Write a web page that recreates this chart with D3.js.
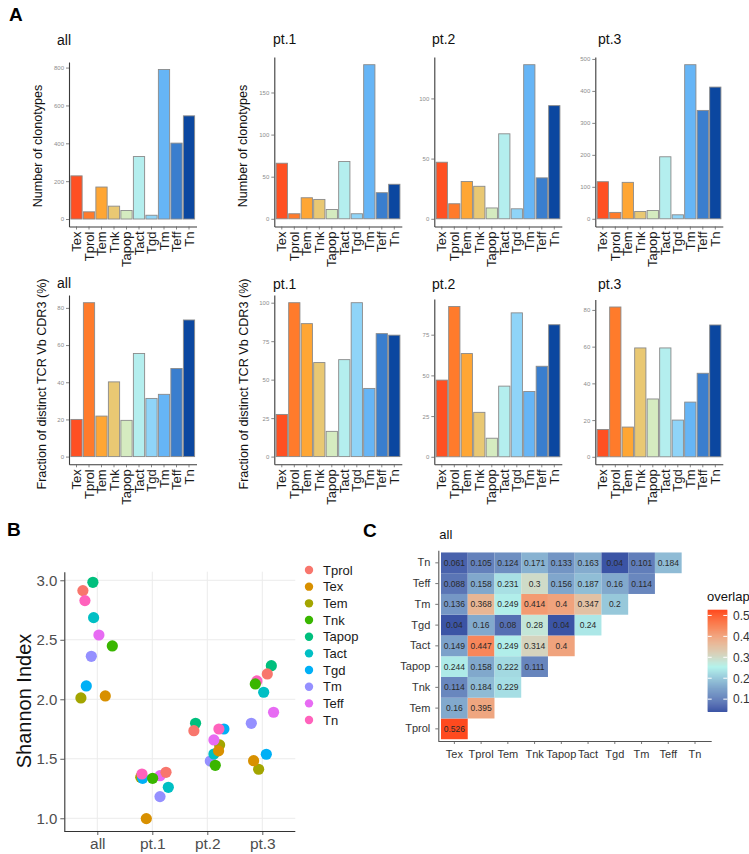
<!DOCTYPE html>
<html><head><meta charset="utf-8">
<script src="https://cdn.jsdelivr.net/npm/d3@7"></script>
<style>
body{margin:0;background:#fff}
svg{display:block}
text{font-family:"Liberation Sans",Arial,Helvetica,sans-serif}
</style>
</head><body>
<svg id="c" width="749" height="854"></svg>
<script>
// ---------------- DATA ----------------
const cellTypes = ["Tex","Tprol","Tem","Tnk","Tapop","Tact","Tgd","Tm","Teff","Tn"];
const barColors = ["#FF5022","#FF7B2B","#FFA634","#E9C873","#D5EBC0","#B4EEEE","#8FD4F8","#66B5F6","#3A7ECE","#0B47A0"];
const panelNames = ["all","pt.1","pt.2","pt.3"];

const clonotypesAll = [228, 38, 169, 68, 45, 330, 20, 790, 401, 545];
const clonotypesPt1 = [66, 6, 25, 23, 11, 68, 6, 183, 31, 41];
const clonotypesPt2 = [47, 12.5, 31, 27, 9, 70.6, 8.3, 128, 34, 94];
const clonotypesPt3 = [116, 20, 114, 23, 26, 194, 12.5, 482, 339, 412];

const fractionAll = [20, 82.8, 21.8, 40.2, 19.5, 55.5, 31.3, 33.5, 47.4, 73.5];
const fractionPt1 = [27.4, 100, 86.4, 61.1, 16.4, 63, 100, 44.3, 79.9, 78.9];
const fractionPt2 = [47.1, 92.3, 63.4, 27.3, 11.4, 43.4, 88.4, 40.1, 55.6, 81.1];
const fractionPt3 = [14.9, 81.6, 16.2, 59.3, 31.5, 59.3, 20, 29.8, 45.5, 71.8];

const clonoTicks = [[0,200,400,600,800],[0,50,100,150],[0,50,100],[0,100,200,300,400,500]];
const fracTicks = [[0,20,40,60,80],[0,25,50,75,100],[0,25,50,75],[0,20,40,60,80]];

// Shannon index (legend order)
const shannonTypes = ["Tprol","Tex","Tem","Tnk","Tapop","Tact","Tgd","Tm","Teff","Tn"];
const shannonColors = ["#F8766D","#D89000","#A3A500","#39B600","#00BF7D","#00BFC4","#00B0F6","#9590FF","#E76BF3","#FF62BC"];
const shannonAll = [2.913, 2.028, 2.011, 2.448, 2.983, 2.686, 2.112, 2.361, 2.540, 2.829];
const shannonPt1 = [1.386, 0.997, 1.345, 1.336, 1.350, 1.260, 1.336, 1.182, 1.358, 1.372];
const shannonPt2 = [1.736, 1.566, 1.616, 1.445, 1.798, 1.540, 1.750, 1.481, 1.658, 1.750];
const shannonPt3 = [2.213, 1.484, 1.412, 2.129, 2.282, 2.059, 1.538, 1.798, 1.891, 2.154];
// horizontal jitter, in category units
const jitterAll = [-0.262, 0.145, -0.298, 0.273, -0.08, -0.067, -0.2, -0.109, 0.029, -0.225];
const jitterPt1 = [0.249, -0.109, -0.21, 0.006, -0.19, 0.291, -0.176, 0.14, 0.14, -0.188];
const jitterPt2 = [-0.244, 0.205, 0.224, 0.145, -0.213, 0.12, 0.302, 0.055, 0.12, 0.211];
const jitterPt3 = [0.091, -0.158, -0.067, -0.127, 0.164, 0.025, 0.073, -0.2, 0.205, -0.098];
const shannonTicks = [1.0, 1.5, 2.0, 2.5, 3.0];
const drawOrder = ["Tapop","Tem","Tgd","Teff","Tm","Tact","Tex","Tprol","Tn","Tnk"];

// Overlap heatmap (rows bottom->top, values from Tex column onward)
const overlapRows = ["Tprol","Tem","Tnk","Tapop","Tact","Tgd","Tm","Teff","Tn"];
const overlapValues = [
  [0.526],
  [0.16, 0.395],
  [0.114, 0.184, 0.229],
  [0.244, 0.158, 0.222, 0.111],
  [0.149, 0.447, 0.249, 0.314, 0.4],
  [0.04, 0.16, 0.08, 0.28, 0.04, 0.24],
  [0.136, 0.368, 0.249, 0.414, 0.4, 0.347, 0.2],
  [0.088, 0.158, 0.231, 0.3, 0.156, 0.187, 0.16, 0.114],
  [0.061, 0.105, 0.124, 0.171, 0.133, 0.163, 0.04, 0.101, 0.184]
];
const overlapTicks = [0.1, 0.2, 0.3, 0.4, 0.5];

// ---------------- DRAW ----------------
const svg = d3.select("#c");
const FONT = '"Liberation Sans",Arial,sans-serif';

function styleAxis(g, lineCol, tickCol){
  g.select(".domain").attr("stroke", lineCol).attr("stroke-width", 1.1);
  g.selectAll(".tick line").attr("stroke", tickCol).attr("stroke-width", 0.8);
}

// Panel A
const colX = [69, 274.3, 434.3, 595.3];
const titleX = [57, 273, 432, 598];
const panelW = 127.5;
const rows = [
  {data:[clonotypesAll, clonotypesPt1, clonotypesPt2, clonotypesPt3], ticks: clonoTicks,
   top:[62,57,57,57], bottom:226.5, titleY:[45,44,44,44], ylabel:"Number of clonotypes",
   ylabelX:[41.7, 247.4], ylabelY:146},
  {data:[fractionAll, fractionPt1, fractionPt2, fractionPt3], ticks: fracTicks,
   top:[295,295,299,299.5], bottom:464.3, titleY:[288,289,289,289], ylabel:"Fraction of distinct TCR Vb CDR3 (%)",
   ylabelX:[45.7, 248], ylabelY:384}
];

rows.forEach(row => {
  row.data.forEach((vals, p) => {
    const x0 = colX[p];
    const mx = d3.max(vals);
    const x = d3.scaleBand().domain(cellTypes).range([x0, x0 + panelW]).paddingInner(0.1).paddingOuter(0.15);
    const y = d3.scaleLinear().domain([-0.05*mx, 1.05*mx]).range([row.bottom, row.top[p]]);
    const g = svg.append("g");
    g.selectAll("rect").data(vals).join("rect")
      .attr("x", (d,i) => x(cellTypes[i]))
      .attr("width", x.bandwidth())
      .attr("y", d => y(d))
      .attr("height", d => y(0) - y(d))
      .attr("fill", (d,i) => barColors[i])
      .attr("stroke", "#8a8a8a").attr("stroke-width", 0.9);
    const ya = g.append("g").attr("transform", `translate(${x0},0)`)
      .call(d3.axisLeft(y).tickValues(row.ticks[p]).tickSize(3).tickSizeOuter(0).tickPadding(2));
    ya.selectAll(".tick text").attr("font-size", 6).attr("fill", "#8c8c8c").attr("font-family", FONT);
    styleAxis(ya, "#3a3a3a", "#666");
    const xa = g.append("g").attr("transform", `translate(0,${row.bottom})`)
      .call(d3.axisBottom(x).tickSize(3).tickSizeOuter(0).tickPadding(2));
    xa.selectAll(".tick text")
      .attr("font-size", 13).attr("fill", "#1a1a1a").attr("font-family", FONT)
      .attr("text-anchor", "end")
      .attr("transform", "rotate(-90)")
      .attr("x", -5).attr("y", 0).attr("dy", "0.36em");
    styleAxis(xa, "#3a3a3a", "#666");
    g.append("text").attr("x", titleX[p]).attr("y", row.titleY[p])
      .attr("font-size", 14).attr("fill", "#111").text(panelNames[p]);
    if (p < 2) {
      g.append("text")
        .attr("transform", `translate(${row.ylabelX[p]},${row.ylabelY}) rotate(-90)`)
        .attr("text-anchor", "middle").attr("font-size", 12.6).attr("fill", "#111")
        .text(row.ylabel);
    }
  });
});

// Panel letters
svg.append("text").attr("x", 9).attr("y", 20.5).attr("font-size", 19).attr("font-weight", "bold").text("A");
svg.append("text").attr("x", 7).attr("y", 536).attr("font-size", 19).attr("font-weight", "bold").text("B");
svg.append("text").attr("x", 363).attr("y", 537).attr("font-size", 19).attr("font-weight", "bold").text("C");

// Panel B: Shannon index
(function(){
  const left = 64.3, right = 295.3, top = 571.7, bottom = 831;
  const x = d3.scalePoint().domain(panelNames).range([left, right]).padding(0.6);
  const y = d3.scaleLinear().domain([0.893, 3.072]).range([bottom, top]);
  const g = svg.append("g");
  g.selectAll("line.hg").data(shannonTicks).join("line")
    .attr("x1", left).attr("x2", right).attr("y1", d => y(d)).attr("y2", d => y(d))
    .attr("stroke", "#EBEBEB").attr("stroke-width", 1);
  g.selectAll("line.vg").data(panelNames).join("line")
    .attr("y1", top).attr("y2", bottom).attr("x1", d => x(d)).attr("x2", d => x(d))
    .attr("stroke", "#EBEBEB").attr("stroke-width", 1);
  const groupVals = [shannonAll, shannonPt1, shannonPt2, shannonPt3];
  const groupJit = [jitterAll, jitterPt1, jitterPt2, jitterPt3];
  const pts = [];
  drawOrder.forEach(t => {
    const k = shannonTypes.indexOf(t);
    panelNames.forEach((gname, gi) => {
      pts.push({g: gname, v: groupVals[gi][k], j: groupJit[gi][k], c: shannonColors[k]});
    });
  });
  g.selectAll("circle.pt").data(pts).join("circle")
    .attr("cx", d => x(d.g) + d.j * x.step())
    .attr("cy", d => y(d.v))
    .attr("r", 5.6)
    .attr("fill", d => d.c);
  const ya = g.append("g").attr("transform", `translate(${left},0)`)
    .call(d3.axisLeft(y).tickValues(shannonTicks).tickFormat(d3.format(".1f")).tickSize(4).tickSizeOuter(0).tickPadding(3));
  ya.selectAll(".tick text").attr("font-size", 15).attr("fill", "#4D4D4D").attr("font-family", FONT);
  styleAxis(ya, "#333", "#333");
  const xa = g.append("g").attr("transform", `translate(0,${bottom})`)
    .call(d3.axisBottom(x).tickSize(4).tickSizeOuter(0).tickPadding(3));
  xa.select(".domain").attr("d", `M${left},0.5H${right}`);
  xa.selectAll(".tick text").attr("font-size", 15.5).attr("fill", "#4D4D4D").attr("font-family", FONT);
  styleAxis(xa, "#333", "#333");
  g.append("text").attr("transform", `translate(31,701) rotate(-90)`)
    .attr("text-anchor", "middle").attr("font-size", 20).attr("fill", "#111").text("Shannon Index");
  const lg = g.append("g");
  shannonTypes.forEach((t, i) => {
    const ly = 570 + i * 16.67;
    lg.append("circle").attr("cx", 309).attr("cy", ly).attr("r", 4.2).attr("fill", shannonColors[i]);
    lg.append("text").attr("x", 323).attr("y", ly).attr("dy", "0.36em")
      .attr("font-size", 13).attr("fill", "#1a1a1a").text(t);
  });
})();

// Panel C: overlap heatmap
(function(){
  const left = 438.3, right = 711.7, top = 550.7, bottom = 741;
  const x = d3.scaleBand().domain(cellTypes).range([441, 708.4]);
  const y = d3.scaleBand().domain(overlapRows).range([bottom, top]).paddingOuter(0.085);
  const color = d3.scaleLinear().domain([0.04, 0.255, 0.526])
    .range(["#3B54A5", "#B4F3EC", "#FF4A1F"]).interpolate(d3.interpolateLab);
  const g = svg.append("g");
  const cells = [];
  overlapValues.forEach((r, ri) => r.forEach((v, ci) => cells.push({row: overlapRows[ri], col: cellTypes[ci], v})));
  g.selectAll("rect.cell").data(cells).join("rect")
    .attr("x", d => x(d.col)).attr("y", d => y(d.row))
    .attr("width", x.bandwidth()).attr("height", y.bandwidth())
    .attr("fill", d => color(d.v));
  g.selectAll("text.cv").data(cells).join("text")
    .attr("x", d => x(d.col) + x.bandwidth()/2).attr("y", d => y(d.row) + y.bandwidth()/2)
    .attr("dy", "0.36em").attr("text-anchor", "middle")
    .attr("font-size", 8.5).attr("fill", "#2a2a2a")
    .text(d => String(d.v));
  const ya = g.append("g").attr("transform", `translate(${left},0)`)
    .call(d3.axisLeft(y).tickSize(3).tickSizeOuter(0).tickPadding(5));
  ya.select(".domain").attr("d", `M0.5,${bottom}V${top}`);
  ya.selectAll(".tick text").attr("font-size", 11).attr("fill", "#333").attr("font-family", FONT);
  styleAxis(ya, "#555", "#555");
  const xa = g.append("g").attr("transform", `translate(0,${bottom})`)
    .call(d3.axisBottom(x).tickSize(3).tickSizeOuter(0).tickPadding(6));
  xa.select(".domain").attr("d", `M${left},0.5H${right}`);
  xa.selectAll(".tick text").attr("font-size", 11).attr("fill", "#333").attr("font-family", FONT);
  styleAxis(xa, "#555", "#555");
  g.append("text").attr("x", 439.3).attr("y", 539).attr("font-size", 13).attr("fill", "#111").text("all");
  const cbX = 707.7, cbW = 19.6;
  const cy = d3.scaleLinear().domain([0.04, 0.526]).range([711.7, 610]);
  const steps = d3.range(0, 100).map(i => 0.04 + (0.526 - 0.04) * i / 100);
  const sh = (cy(0.04) - cy(0.526)) / 100;
  g.selectAll("rect.cb").data(steps).join("rect")
    .attr("x", cbX).attr("width", cbW)
    .attr("y", d => cy(d) - sh - 0.3).attr("height", sh + 0.6)
    .attr("fill", d => color(d + (0.486/200)));
  overlapTicks.forEach(t => {
    g.append("line").attr("x1", cbX).attr("x2", cbX + 4).attr("y1", cy(t)).attr("y2", cy(t)).attr("stroke", "#fff").attr("stroke-width", 1);
    g.append("line").attr("x1", cbX + cbW - 4).attr("x2", cbX + cbW).attr("y1", cy(t)).attr("y2", cy(t)).attr("stroke", "#fff").attr("stroke-width", 1);
    g.append("text").attr("x", 733).attr("y", cy(t)).attr("dy", "0.36em")
      .attr("font-size", 12).attr("fill", "#333").text(d3.format(".1f")(t));
  });
  g.append("text").attr("x", 707).attr("y", 601).attr("font-size", 13).attr("fill", "#111").text("overlap");
})();
</script>
</body></html>
